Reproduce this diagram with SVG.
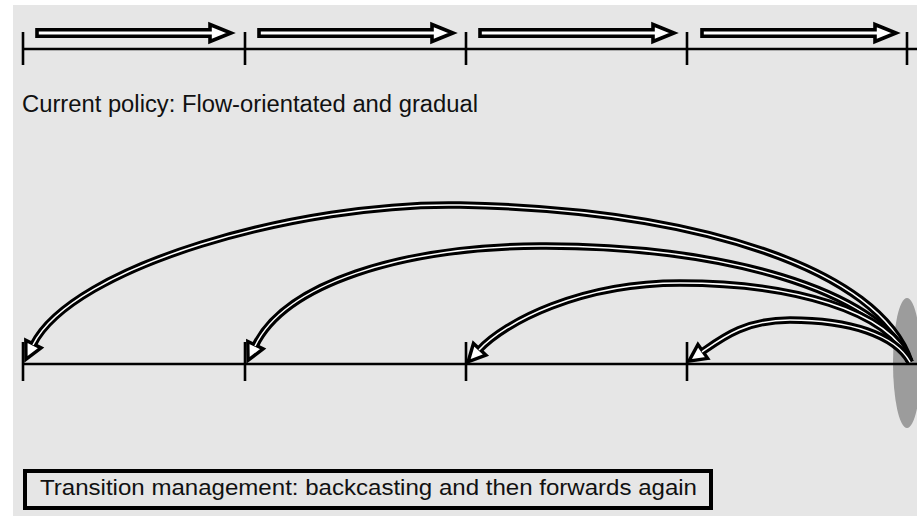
<svg xmlns="http://www.w3.org/2000/svg" width="917" height="516" viewBox="0 0 917 516">
  <style>
    .axis { stroke: #000; stroke-width: 2.4; fill: none; }
    .tick { stroke: #000; stroke-width: 2.6; }
    .block { fill: #fff; stroke: #000; stroke-width: 3.6; stroke-linejoin: miter; }
    .arc-outer { fill: none; stroke: #000; stroke-width: 7.5; stroke-linecap: butt; }
    .arc-inner { fill: none; stroke: #fff; stroke-width: 1.5; stroke-linecap: butt; }
    .label { font-family: "Liberation Sans", Arial, sans-serif; fill: #111; }
  </style>
  <defs>
    <marker id="hollowHead" markerUnits="userSpaceOnUse" markerWidth="24" markerHeight="24" refX="0" refY="0" orient="auto" overflow="visible">
      <path d="M-1,-8.5 L16,0 L-1,8.5 Z" fill="#fff" stroke="#000" stroke-width="3.4" stroke-linejoin="miter"/>
    </marker>
  </defs>

  <!-- canvas -->
  <rect x="0" y="0" width="917" height="516" fill="#fff"/>
  <rect x="13" y="5" width="904" height="511" fill="#e6e6e6"/>

  <!-- upper timeline: step-by-step policy -->
  <g id="timeline-current">
    <line class="axis" x1="23" y1="49" x2="917" y2="49"/>
    <line class="tick" x1="23" y1="32" x2="23" y2="65"/>
    <line class="tick" x1="245" y1="32" x2="245" y2="65"/>
    <line class="tick" x1="466" y1="32" x2="466" y2="65"/>
    <line class="tick" x1="687" y1="32" x2="687" y2="65"/>
    <line class="tick" x1="907" y1="32" x2="907" y2="65"/>
  </g>
  <g id="step-1"><path class="block" d="M37,29.8 H210 V24.5 L231,33 L210,41.5 V36.2 H37 Z"/></g>
  <g id="step-2"><path class="block" d="M259,29.8 H432 V24.5 L453,33 L432,41.5 V36.2 H259 Z"/></g>
  <g id="step-3"><path class="block" d="M480,29.8 H653 V24.5 L674,33 L653,41.5 V36.2 H480 Z"/></g>
  <g id="step-4"><path class="block" d="M702,29.8 H875 V24.5 L896,33 L875,41.5 V36.2 H702 Z"/></g>

  <g id="label-current">
    <text class="label" x="22" y="112" font-size="23.5" textLength="456" lengthAdjust="spacingAndGlyphs">Current policy: Flow-orientated and gradual</text>
  </g>

  <!-- lower timeline: transition management -->
  <g id="goal">
    <ellipse cx="907" cy="363" rx="14" ry="65" fill="#9c9c9c"/>
  </g>
  <g id="timeline-transition">
    <line class="axis" x1="23" y1="364" x2="917" y2="364"/>
    <line class="tick" x1="23" y1="342" x2="23" y2="381"/>
    <line class="tick" x1="245" y1="342" x2="245" y2="381"/>
    <line class="tick" x1="466" y1="342" x2="466" y2="381"/>
    <line class="tick" x1="687" y1="342" x2="687" y2="381"/>
  </g>

  <g id="connectors">
    <!-- back-casting arcs from the goal to each milestone -->
    <path class="arc-outer" marker-end="url(#hollowHead)" d="M910,362 C880,270 700,210 460,205 C300,202 72,266 33,345"/>
    <path class="arc-inner" d="M910,362 C880,270 700,210 460,205 C300,202 72,266 33,345"/>

    <path class="arc-outer" marker-end="url(#hollowHead)" d="M910,362 C880,290 720,245 540,246 C400,247 285,284 255,346"/>
    <path class="arc-inner" d="M910,362 C880,290 720,245 540,246 C400,247 285,284 255,346"/>

    <path class="arc-outer" marker-end="url(#hollowHead)" d="M910,362 C890,310 790,283 680,283 C580,283 505,322 479,350"/>
    <path class="arc-inner" d="M910,362 C890,310 790,283 680,283 C580,283 505,322 479,350"/>

    <path class="arc-outer" marker-end="url(#hollowHead)" d="M910,362 C895,335 850,320 790,320 C745,320 722,338 702,352"/>
    <path class="arc-inner" d="M910,362 C895,335 850,320 790,320 C745,320 722,338 702,352"/>
  </g>

  <g id="label-transition">
    <rect x="25" y="471" width="686" height="37" fill="#e6e6e6" stroke="#000" stroke-width="4"/>
    <text class="label" x="40" y="495" font-size="22.5" textLength="657" lengthAdjust="spacingAndGlyphs">Transition management: backcasting and then forwards again</text>
  </g>
</svg>
